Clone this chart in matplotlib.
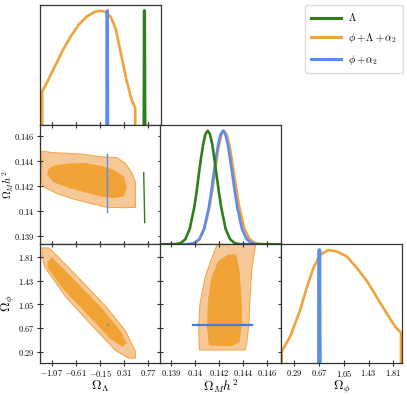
import matplotlib
matplotlib.use('Agg')
import matplotlib.pyplot as plt
from matplotlib.lines import Line2D

plt.rcParams['mathtext.fontset'] = 'cm'
plt.rcParams['font.family'] = ['DejaVu Serif']

# colours
green = '#2f7d1b'
orange = '#f2a23a'
blue = '#5b8def'
light = '#f6c897'
dark = '#f0a235'

# ticks
lam_ticks = [-1.07, -0.61, -0.15, 0.31, 0.77]
lam_labels = ['-1.07', '-0.61', '-0.15', '0.31', '0.77']
om_ticks = [0.13855, 0.14045, 0.14235, 0.14425, 0.14615]
om_labels = ['0.139', '0.14', '0.142', '0.144', '0.146']
phi_ticks = [0.29, 0.67, 1.05, 1.43, 1.81]
phi_labels = ['0.29', '0.67', '1.05', '1.43', '1.81']

# 1D: Omega_Lambda
lam_orange_x = [-1.25, -1.25, -1.15, -1.0, -0.85, -0.7, -0.55, -0.4, -0.25, -0.15, -0.05, 0.05,
                0.15, 0.25, 0.35, 0.45, 0.52, 0.52]
lam_orange_y = [0, 0.29, 0.38, 0.52, 0.66, 0.78, 0.88, 0.95, 0.99, 1.0, 0.99, 0.95,
                0.84, 0.62, 0.40, 0.22, 0.15, 0]
lam_blue_x = [-0.02, -0.012, -0.004]
lam_blue_y = [0, 1.0, 0]
lam_green_x = [0.687, 0.695, 0.703]
lam_green_y = [0, 1.0, 0]

# 1D: Omega_M h^2
om_green_x = [0.1376, 0.13862, 0.13898, 0.13933, 0.13969, 0.14004, 0.14040, 0.14058, 0.14075, 0.14093,
              0.14111, 0.14128, 0.14146, 0.14164, 0.14182, 0.14199, 0.14217, 0.14235, 0.14253,
              0.14288, 0.14324, 0.14359, 0.14395, 0.14430, 0.1473]
om_green_y = [0, 0.0003, 0.002, 0.011, 0.044, 0.135, 0.325, 0.458, 0.607, 0.755,
              0.882, 0.969, 1.0, 0.969, 0.882, 0.755, 0.607, 0.458, 0.325,
              0.135, 0.044, 0.011, 0.002, 0.0003, 0]
om_blue_x = [0.1376, 0.13967, 0.14005, 0.14042, 0.14080, 0.14117, 0.14155, 0.14174, 0.14192, 0.14211,
             0.14230, 0.14248, 0.14267, 0.14286, 0.14305, 0.14323, 0.14342, 0.14361, 0.14380,
             0.14417, 0.14455, 0.14492, 0.14530, 0.14567, 0.1473]
om_blue_y = [0, 0.0003, 0.002, 0.011, 0.044, 0.135, 0.325, 0.458, 0.607, 0.755,
             0.882, 0.969, 1.0, 0.969, 0.882, 0.755, 0.607, 0.458, 0.325,
             0.135, 0.044, 0.011, 0.002, 0.0003, 0]
om_orange_x = [0.1376, 0.13960, 0.14000, 0.14040, 0.14080, 0.14120, 0.14160, 0.14180, 0.14200, 0.14218,
               0.14237, 0.14256, 0.14275, 0.14295, 0.14315, 0.14335, 0.14355, 0.14375, 0.14395,
               0.14435, 0.14475, 0.14515, 0.14555, 0.14595, 0.1473]
om_orange_y = [0, 0.0003, 0.002, 0.011, 0.044, 0.135, 0.325, 0.458, 0.607, 0.755,
               0.882, 0.969, 1.0, 0.970, 0.885, 0.760, 0.615, 0.470, 0.335,
               0.142, 0.048, 0.013, 0.003, 0.0005, 0]

# 1D: Omega_phi
phi_orange_x = [0.100, 0.100, 0.228, 0.381, 0.484, 0.585, 0.688, 0.815, 0.944, 1.097, 1.250,
                1.404, 1.557, 1.710, 1.838, 1.925, 1.925]
phi_orange_y = [0, 0.102, 0.232, 0.464, 0.667, 0.841, 0.957, 1.0, 0.986, 0.942, 0.841,
                0.725, 0.580, 0.435, 0.319, 0.267, 0]
phi_blue_x = [0.669, 0.677, 0.685]
phi_blue_y = [0, 1.0, 0]

# 2D: Omega_Lambda vs Omega_M h^2
lo_out_x = [-1.258, -1.037, -0.781, -0.464, -0.145, 0.174, 0.332, 0.460, 0.523, 0.523,
            0.300, -0.017, -0.336, -0.655, -0.972, -1.227, -1.258]
lo_out_y = [0.14501, 0.14488, 0.14484, 0.14476, 0.14458, 0.14450, 0.14408, 0.14332, 0.14268, 0.14074,
            0.14071, 0.14074, 0.14105, 0.14137, 0.14180, 0.14230, 0.14261]
lo_in_x = [-1.132, -1.037, -0.781, -0.464, -0.145, 0.109, 0.300, 0.351, 0.300, 0.109,
           -0.145, -0.464, -0.781, -1.037, -1.143]
lo_in_y = [0.14357, 0.14387, 0.14402, 0.14408, 0.14387, 0.14357, 0.14306, 0.14230, 0.14160, 0.14147,
           0.14160, 0.14193, 0.14230, 0.14268, 0.14319]
lo_blue_x = [-0.01, -0.01]
lo_blue_y = [0.14478, 0.14039]
lo_green_x = [0.681, 0.700]
lo_green_y = [0.14337, 0.13958]

# 2D: Omega_Lambda vs Omega_phi
lp_out_x = [-1.119, -0.985, -0.527, -0.050, 0.332, 0.523, 0.523, 0.389, 0.141, -0.336,
            -0.813, -1.195, -1.252, -1.252]
lp_out_y = [1.952, 1.842, 1.448, 1.023, 0.629, 0.299, 0.189, 0.189, 0.315, 0.740,
            1.180, 1.637, 1.810, 1.952]
lp_in_x = [-1.061, -0.622, -0.145, 0.236, 0.351, 0.275, 0.046, -0.374, -0.871, -1.138, -1.138]
lp_in_y = [1.794, 1.416, 1.007, 0.614, 0.425, 0.378, 0.504, 0.881, 1.322, 1.637, 1.731]
lp_blue_x = [-0.010, -0.002]
lp_blue_y = [0.718, 0.708]

# 2D: Omega_M h^2 vs Omega_phi
op_out_x = [0.14230, 0.14528, 0.14494, 0.14481, 0.14473, 0.14455, 0.14441, 0.14080, 0.14075,
            0.14085, 0.14125, 0.14178, 0.14230]
op_out_y = [2.05, 2.05, 1.578, 1.160, 0.740, 0.425, 0.319, 0.319, 0.688, 1.054, 1.475, 1.789, 2.05]
op_in_x = [0.14309, 0.14370, 0.14396, 0.14410, 0.14415, 0.14396, 0.14336, 0.14159, 0.14143,
           0.14151, 0.14178, 0.14230]
op_in_y = [1.841, 1.841, 1.578, 1.160, 0.792, 0.452, 0.382, 0.398, 0.688, 1.106, 1.475, 1.736]
op_blue_x = [0.14032, 0.14494]
op_blue_y = [0.713, 0.713]

lam_lim = (-1.30, 1.00)
om_xlim = (0.13769, 0.14726)
om_ylim = (0.13794, 0.14698)
phi_xlim = (0.09, 1.94)
phi_ylim = (0.11, 2.01)

W, H = 407, 395
fig = plt.figure(figsize=(4.07, 3.95), dpi=100)
lefts = [39.5, 160, 281]
bottoms = [125, 244.3, 363]
pw = 121


def make_ax(col, row):
    top = [5, 125, 244.3][row]
    bot = bottoms[row]
    ax = fig.add_axes([lefts[col] / W, (H - bot) / H, pw / W, (bot - top) / H])
    for s in ax.spines.values():
        s.set_color('#333333')
        s.set_linewidth(0.9)
    return ax


def mlabels(labels):
    return ['$%s$' % l for l in labels]


# row 0
ax00 = make_ax(0, 0)
ax00.plot(lam_orange_x, lam_orange_y, color=orange, lw=1.9)
ax00.plot(lam_blue_x, lam_blue_y, color=blue, lw=2.3)
ax00.plot(lam_green_x, lam_green_y, color=green, lw=2.3)
ax00.set_xlim(*lam_lim)
ax00.set_ylim(0, 1.05)

# row 1
ax10 = make_ax(0, 1)
ax10.fill(lo_out_x, lo_out_y, color=light, ec=orange, lw=0.7)
ax10.fill(lo_in_x, lo_in_y, color=dark, ec=dark, lw=0.5)
ax10.plot(lo_blue_x, lo_blue_y, color=blue, lw=1.0)
ax10.plot(lo_green_x, lo_green_y, color=green, lw=1.0)
ax10.set_xlim(*lam_lim)
ax10.set_ylim(*om_ylim)

ax11 = make_ax(1, 1)
ax11.plot(om_orange_x, om_orange_y, color=orange, lw=1.9)
ax11.plot(om_blue_x, om_blue_y, color=blue, lw=1.9)
ax11.plot(om_green_x, om_green_y, color=green, lw=1.9)
ax11.set_xlim(*om_xlim)
ax11.set_ylim(0, 1.05)

# row 2
ax20 = make_ax(0, 2)
ax20.fill(lp_out_x, lp_out_y, color=light, ec=orange, lw=0.7)
ax20.fill(lp_in_x, lp_in_y, color=dark, ec=dark, lw=0.5)
ax20.plot(lp_blue_x, lp_blue_y, color=blue, lw=1.0)
ax20.set_xlim(*lam_lim)
ax20.set_ylim(*phi_ylim)

ax21 = make_ax(1, 2)
ax21.fill(op_out_x, op_out_y, color=light, ec=orange, lw=0.7)
ax21.fill(op_in_x, op_in_y, color=dark, ec=dark, lw=0.5)
ax21.plot(op_blue_x, op_blue_y, color='#4a78e0', lw=1.6)
ax21.set_xlim(*om_xlim)
ax21.set_ylim(*phi_ylim)

ax22 = make_ax(2, 2)
ax22.plot(phi_orange_x, phi_orange_y, color=orange, lw=1.9)
ax22.plot(phi_blue_x, phi_blue_y, color=blue, lw=2.6)
ax22.set_xlim(*phi_xlim)
ax22.set_ylim(0, 1.05)

tick_kw = dict(direction='inout', length=4, width=0.8, color='#333333', labelsize=6, pad=1.5)

# 1D panels: x ticks only
for ax, t in [(ax00, lam_ticks), (ax11, om_ticks), (ax22, phi_ticks)]:
    ax.set_xticks(t)
    ax.set_yticks([])
    ax.tick_params(axis='x', bottom=True, top=False, labelbottom=False, **tick_kw)

# 2D panels
for ax, tx, ty in [(ax10, lam_ticks, om_ticks), (ax20, lam_ticks, phi_ticks), (ax21, om_ticks, phi_ticks)]:
    ax.set_xticks(tx)
    ax.set_yticks(ty)
    ax.tick_params(axis='both', bottom=True, top=True, left=True, right=True,
                   labelbottom=False, labelleft=False, **tick_kw)

ax10.set_yticklabels(mlabels(om_labels))
ax10.tick_params(labelleft=True)
ax20.set_yticklabels(mlabels(phi_labels))
ax20.tick_params(labelleft=True)
ax20.set_xticklabels(mlabels(lam_labels))
ax20.tick_params(labelbottom=True)
ax21.set_xticklabels(mlabels(om_labels))
ax21.tick_params(labelbottom=True)
ax22.set_xticklabels(mlabels(phi_labels))
ax22.tick_params(labelbottom=True)

ax10.set_ylabel(r'$\Omega_M h^2$', fontsize=7.5)
ax10.yaxis.set_label_coords(-0.195, 0.5)
ax20.set_ylabel(r'$\Omega_\phi$', fontsize=9.5)
ax20.yaxis.set_label_coords(-0.19, 0.5)
ax20.set_xlabel(r'$\Omega_\Lambda$', fontsize=9.5, labelpad=0)
ax21.set_xlabel(r'$\Omega_M h^2$', fontsize=9.5, labelpad=0)
ax22.set_xlabel(r'$\Omega_\phi$', fontsize=9.5, labelpad=0)

handles = [Line2D([], [], color=green, lw=2.2),
           Line2D([], [], color=orange, lw=2.2),
           Line2D([], [], color=blue, lw=2.2)]
labels = [r'$\Lambda$', r'$\phi+\Lambda+\alpha_2$', r'$\phi+\alpha_2$']
fig.legend(handles, labels, loc='upper right', bbox_to_anchor=(403 / W, 1 - 5 / H),
           borderaxespad=0, fontsize=7.5, handlelength=2.8, handletextpad=0.7,
           labelspacing=0.75, borderpad=0.6, framealpha=1, edgecolor='#dddddd', fancybox=True)

fig.savefig('out.png', dpi=100)
